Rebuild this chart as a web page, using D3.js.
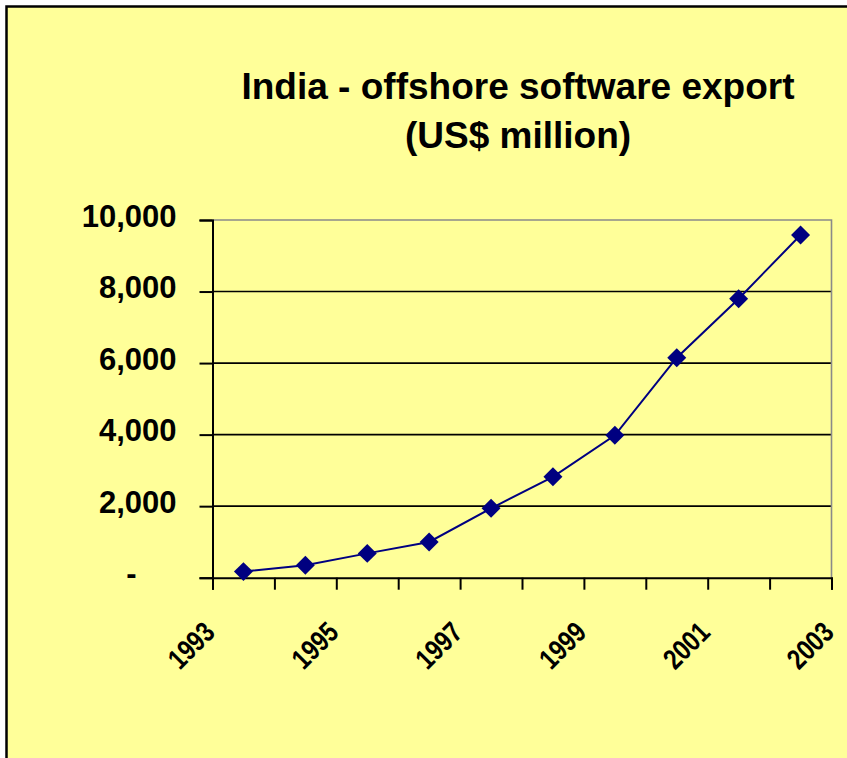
<!DOCTYPE html>
<html>
<head>
<meta charset="utf-8">
<script src="https://cdn.jsdelivr.net/npm/d3@7"></script>
<style>
  html, body { margin: 0; padding: 0; background: #ffffff; }
  svg { display: block; }
  text { font-family: "Liberation Sans", Arial, sans-serif; font-weight: bold; fill: #000; }
</style>
</head>
<body>
<svg id="chart" width="847" height="758"></svg>
<script>
// ---- data ----
const titleLines = ["India - offshore software export", "(US$ million)"];
const years = [1993, 1994, 1995, 1996, 1997, 1998, 1999, 2000, 2001, 2002];
const exportsUSD = [170, 350, 680, 1000, 1940, 2820, 3980, 6150, 7800, 9580];
const yTicks = [0, 2000, 4000, 6000, 8000, 10000];
const xTickLabels = [1993, 1995, 1997, 1999, 2001, 2003];

// ---- layout ----
const svg = d3.select("#chart");
const W = 847, H = 758;
const plot = { left: 212.5, right: 831.5, top: 220, bottom: 577.7 };

svg.append("rect")
  .attr("x", 6.5).attr("y", 6.5)
  .attr("width", W + 20).attr("height", H + 20)
  .attr("fill", "#FFFF99")
  .attr("stroke", "#000").attr("stroke-width", 2.5);

// title
svg.append("g").selectAll("text")
  .data(titleLines).join("text")
  .attr("x", 518)
  .attr("y", (d, i) => 99 + i * 49)
  .attr("text-anchor", "middle")
  .attr("font-size", 37)
  .text(d => d);

// scales
const x = d3.scaleLinear()
  .domain([years[0], years[years.length - 1] + 1])
  .range([plot.left, plot.right]);
const y = d3.scaleLinear()
  .domain([0, 10000])
  .range([plot.bottom, plot.top]);

// gridlines (black), excluding top (plot border)
svg.append("g").selectAll("line")
  .data(yTicks.filter(d => d > 0 && d < 10000)).join("line")
  .attr("x1", plot.left).attr("x2", plot.right)
  .attr("y1", d => y(d)).attr("y2", d => y(d))
  .attr("stroke", "#000").attr("stroke-width", 1.6);

// plot border (gray) top & right
svg.append("path")
  .attr("d", `M${plot.left},${plot.top}H${plot.right}V${plot.bottom}`)
  .attr("fill", "none").attr("stroke", "#8a8a8a").attr("stroke-width", 1.6);

// y axis
const yAxis = svg.append("g")
  .attr("transform", `translate(${plot.left},0)`)
  .call(d3.axisLeft(y).tickValues(yTicks).tickSize(13).tickPadding(36)
    .tickFormat(d => d === 0 ? "-" : d3.format(",")(d)));
yAxis.select(".domain").attr("stroke", "#000").attr("stroke-width", 2);
yAxis.selectAll(".tick line").attr("stroke", "#000").attr("stroke-width", 2);
yAxis.selectAll(".tick text")
  .attr("font-size", 31)
  .attr("font-family", "'Liberation Sans', Arial, sans-serif")
  .attr("font-weight", "bold")
  .attr("fill", "#000")
  .attr("dy", "0.2em")
  .attr("x", d => d === 0 ? -76 : -36);

// x axis with ticks at every category boundary
const xAxis = svg.append("g")
  .attr("transform", `translate(0,${plot.bottom})`)
  .call(d3.axisBottom(x).tickValues(d3.range(years[0], years[years.length - 1] + 2))
    .tickSize(12).tickFormat(""));
xAxis.select(".domain").attr("stroke", "#000").attr("stroke-width", 2);
xAxis.selectAll(".tick line").attr("stroke", "#000").attr("stroke-width", 2);

// rotated x labels
svg.append("g").selectAll("text")
  .data(xTickLabels).join("text")
  .attr("font-size", 26)
  .attr("text-anchor", "end")
  .attr("transform", d => `translate(${x(d) + 4},${634}) rotate(-45) scale(0.9,1.1)`)
  .text(d => d);

// line
const pts = years.map((yr, i) => ({ yr, v: exportsUSD[i] }));
svg.append("path")
  .datum(pts)
  .attr("fill", "none")
  .attr("stroke", "#000080")
  .attr("stroke-width", 2)
  .attr("d", d3.line().x(d => x(d.yr + 0.5)).y(d => y(d.v)));

// diamond markers
svg.append("g").selectAll("path")
  .data(pts).join("path")
  .attr("d", d3.symbol().type(d3.symbolSquare).size(180))
  .attr("transform", d => `translate(${x(d.yr + 0.5)},${y(d.v)}) rotate(45)`)
  .attr("fill", "#000080");
</script>
</body>
</html>
